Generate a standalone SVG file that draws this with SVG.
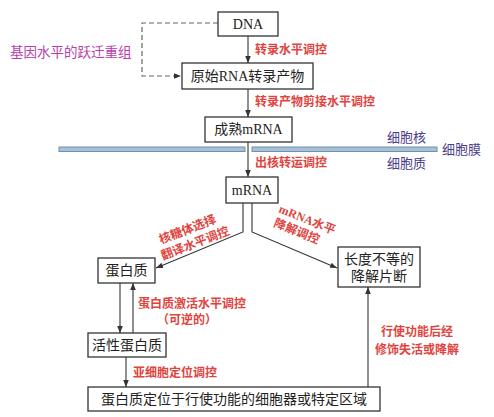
<svg xmlns="http://www.w3.org/2000/svg" width="494" height="417" viewBox="0 0 494 417">
<defs>
<marker id="ah" viewBox="0 0 10 10" refX="10" refY="5" markerWidth="7" markerHeight="7" orient="auto" markerUnits="userSpaceOnUse">
<path d="M0,1 L10,5 L0,9 Z" fill="#333"/>
</marker>
<style>
.box{fill:#fff;stroke:#333;stroke-width:1.3}
.bt{font-family:"Liberation Serif","Noto Sans CJK SC",serif;font-size:14px;fill:#222;text-anchor:middle;dominant-baseline:central}
.lab{font-family:"Liberation Serif","Noto Sans CJK SC",serif;font-size:12px;fill:#e0443e;font-weight:bold}
.cell{font-family:"Noto Sans CJK SC",sans-serif;font-size:13px;fill:#4b3d8c}
.ln{fill:none;stroke:#333;stroke-width:1.1}
.dash{fill:none;stroke:#666;stroke-width:1.2;stroke-dasharray:5,3}
</style>
</defs>
<rect width="494" height="417" fill="#fff"/>
<g id="membrane">
<rect x="59" y="147" width="186" height="4.5" fill="#a9c1d6" stroke="#6f90ae" stroke-width="1"/>
<rect x="252" y="147" width="185" height="4.5" fill="#a9c1d6" stroke="#6f90ae" stroke-width="1"/>
</g>
<g id="connectors">
<path class="dash" d="M218,23 H142 V76 H181" marker-end="url(#ah)"/>
<path class="ln" d="M248,36 V63" marker-end="url(#ah)"/>
<path class="ln" d="M248,89 V117" marker-end="url(#ah)"/>
<path class="ln" d="M248,142 V177" marker-end="url(#ah)"/>
<path class="ln" d="M243,203 V232 L156,268" marker-end="url(#ah)"/>
<path class="ln" d="M252,203 V232 L337,268" marker-end="url(#ah)"/>
<path class="ln" d="M120,283 V333" marker-end="url(#ah)"/>
<path class="ln" d="M133,333 V283" marker-end="url(#ah)"/>
<path class="ln" d="M126,357 V387" marker-end="url(#ah)"/>
<path class="ln" d="M368,387 V287" marker-end="url(#ah)"/>
</g>
<g id="labels">
<text x="10" y="57" font-family="Noto Sans CJK SC,sans-serif" font-size="13.5" fill="#b83cab">基因水平的跃迁重组</text>
<text class="lab" x="255" y="54">转录水平调控</text>
<text class="lab" x="255" y="106">转录产物剪接水平调控</text>
<text class="lab" x="255" y="167">出核转运调控</text>
<text class="cell" x="387" y="142">细胞核</text>
<text class="cell" x="442" y="154">细胞膜</text>
<text class="cell" x="387" y="168">细胞质</text>
<text class="lab" transform="translate(161,244) rotate(-21)">核糖体选择</text>
<text class="lab" transform="translate(163,260) rotate(-21)">翻译水平调控</text>
<text class="lab" transform="translate(278,212) rotate(22)">mRNA水平</text>
<text class="lab" transform="translate(273,226) rotate(22)">降解调控</text>
<text class="lab" x="138" y="308">蛋白质激活水平调控</text>
<text class="lab" x="187" y="324" text-anchor="middle">（可逆的）</text>
<text class="lab" x="133" y="377">亚细胞定位调控</text>
<text class="lab" x="417" y="336" text-anchor="middle">行使功能后经</text>
<text class="lab" x="417" y="354" text-anchor="middle">修饰失活或降解</text>
</g>
<g id="dna"><rect class="box" x="218" y="12" width="60" height="24"/><text class="bt" x="248" y="24">DNA</text></g>
<g id="pre-rna"><rect class="box" x="182" y="63" width="131" height="26"/><text class="bt" x="247.5" y="76">原始RNA转录产物</text></g>
<g id="mature-mrna"><rect class="box" x="205" y="117" width="87" height="25"/><text class="bt" x="248.5" y="129.5">成熟mRNA</text></g>
<g id="mrna"><rect class="box" x="226" y="177" width="52" height="26"/><text class="bt" x="252" y="190">mRNA</text></g>
<g id="protein"><rect class="box" x="98" y="258" width="57" height="25"/><text class="bt" x="126.5" y="270.5">蛋白质</text></g>
<g id="fragments"><rect class="box" x="338" y="247" width="82" height="40"/><text class="bt" x="379" y="259">长度不等的</text><text class="bt" x="379" y="276">降解片断</text></g>
<g id="active-protein"><rect class="box" x="88" y="333" width="78" height="24"/><text class="bt" x="127" y="345">活性蛋白质</text></g>
<g id="localized"><rect class="box" x="88" y="387" width="292" height="24"/><text class="bt" x="234" y="399">蛋白质定位于行使功能的细胞器或特定区域</text></g>
</svg>
